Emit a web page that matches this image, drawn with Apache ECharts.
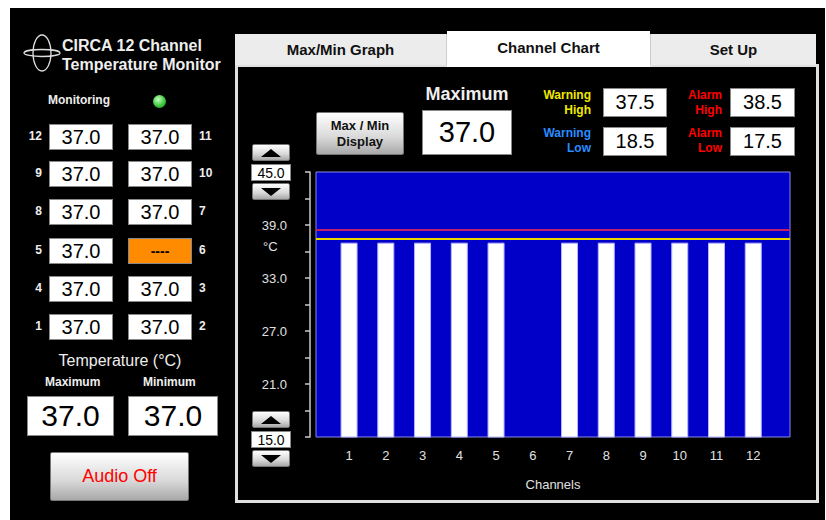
<!DOCTYPE html>
<html>
<head>
<meta charset="utf-8">
<title>CIRCA 12 Channel Temperature Monitor</title>
<script src="https://cdn.jsdelivr.net/npm/echarts@6/dist/echarts.min.js"></script>
<style>
  html, body { margin: 0; padding: 0; background: #fff; }
  body { width: 826px; height: 520px; position: relative; overflow: hidden;
         font-family: "Liberation Sans", Arial, sans-serif; }
  .screen { position: absolute; left: 10px; top: 8px; width: 815px; height: 512px; background: #000; }
  #chart { position: absolute; left: 0; top: 0; width: 826px; height: 520px; z-index: 2; }
  .ui { position: absolute; z-index: 3; }
  .box { position: absolute; background: #fff; border: 1px solid #888; box-sizing: border-box;
         color: #000; text-align: center; display: flex; align-items: center; justify-content: center; }
  .lbl { position: absolute; color: #eee; white-space: nowrap; }
  .btn { position: absolute; box-sizing: border-box; border: 1px solid #777; border-radius: 2px;
         background: linear-gradient(#ffffff, #d8d8d8 60%, #a8a8a8);
         display: flex; align-items: center; justify-content: center; text-align: center; }
  .tri-up { width: 0; height: 0; border-left: 10px solid transparent; border-right: 10px solid transparent; border-bottom: 8px solid #000; }
  .tri-dn { width: 0; height: 0; border-left: 10px solid transparent; border-right: 10px solid transparent; border-top: 8px solid #000; }
  .tab { position: absolute; box-sizing: border-box; display: flex; align-items: center; justify-content: center;
         font-size: 15px; font-weight: bold; color: #111; }
</style>
</head>
<body>
<div class="screen"></div>

<!-- 右侧面板边框和标签页 -->
<div class="ui" style="left:235px;top:64px;width:584px;height:439px;border:3px solid #e0e0e0;box-sizing:border-box;z-index:1"></div>
<div class="tab ui" style="left:235px;top:34px;width:212px;height:31px;background:#ececec;border-right:1px solid #ccc">Max/Min Graph</div>
<div class="tab ui" style="left:447px;top:31px;width:203px;height:36px;background:#fff;padding-bottom:4px">Channel Chart</div>
<div class="tab ui" style="left:650px;top:34px;width:166px;height:31px;background:#ececec;border-left:1px solid #ccc">Set Up</div>

<div id="chart"></div>
<div id="widgets"></div>

<script>
  // 通道编号与温度 (6 号通道无读数)
  const channels = [1, 2, 3, 4, 5, 6, 7, 8, 9, 10, 11, 12]
  const temps = [37.0, 37.0, 37.0, 37.0, 37.0, null, 37.0, 37.0, 37.0, 37.0, 37.0, 37.0]

  // 左侧面板的行排列
  const leftRows = [[12, 11], [9, 10], [8, 7], [5, 6], [4, 3], [1, 2]]
  const rowCenters = [137, 174, 212, 251, 289, 327]

  // 报警与警告阈值
  const warningHigh = 37.5
  const warningLow = 18.5
  const alarmHigh = 38.5
  const alarmLow = 17.5

  // 最大最小值
  const maxTemp = 37.0
  const minTemp = 37.0

  // 纵轴范围和刻度
  const yMin = 15
  const yMax = 45
  const yTickStep = 3
  const yLabels = [21, 27, 33, 39]

  const fmt = v => (v == null ? '----' : Number(v).toFixed(1))

  // 生成界面控件
  const w = document.getElementById('widgets')
  let html = ''

  // 标题与图标
  html += `<svg class="ui" style="left:22px;top:33px" width="40" height="42">
    <ellipse cx="20" cy="20" rx="9" ry="18" fill="none" stroke="#ddd" stroke-width="1.3"/>
    <ellipse cx="20" cy="20" rx="18" ry="3.5" fill="none" stroke="#ddd" stroke-width="1.3"/>
  </svg>`
  html += `<div class="lbl ui" style="left:62px;top:36px;font-size:16px;font-weight:bold;line-height:19px">CIRCA 12 Channel<br>Temperature Monitor</div>`
  html += `<div class="lbl ui" style="left:48px;top:93px;font-size:12px;font-weight:bold">Monitoring</div>`
  html += `<div class="ui" style="left:153px;top:95px;width:13px;height:13px;border-radius:50%;background:radial-gradient(circle at 40% 35%, #c8ffc0, #3cc83c 55%, #1a8a1a)"></div>`

  // 通道读数框
  leftRows.forEach((pair, i) => {
    const top = rowCenters[i] - 13
    const [a, b] = pair
    const va = temps[a - 1]
    const vb = temps[b - 1]
    html += `<div class="lbl ui" style="left:20px;width:22px;text-align:right;top:${top + 5}px;font-size:12px;font-weight:bold">${a}</div>`
    html += `<div class="box ui" style="left:49px;top:${top}px;width:64px;height:26px;font-size:20px;${va == null ? 'background:#ff8c00;font-weight:bold;font-size:14px' : ''}">${fmt(va)}</div>`
    html += `<div class="box ui" style="left:128px;top:${top}px;width:64px;height:26px;font-size:20px;${vb == null ? 'background:#ff8c00;font-weight:bold;font-size:14px' : ''}">${fmt(vb)}</div>`
    html += `<div class="lbl ui" style="left:199px;top:${top + 5}px;font-size:12px;font-weight:bold">${b}</div>`
  })

  html += `<div class="lbl ui" style="left:20px;width:200px;text-align:center;top:352px;font-size:16px">Temperature (°C)</div>`
  html += `<div class="lbl ui" style="left:45px;top:375px;font-size:12px;font-weight:bold">Maximum</div>`
  html += `<div class="lbl ui" style="left:143px;top:375px;font-size:12px;font-weight:bold">Minimum</div>`
  html += `<div class="box ui" style="left:27px;top:396px;width:87px;height:40px;font-size:30px">${fmt(maxTemp)}</div>`
  html += `<div class="box ui" style="left:128px;top:396px;width:90px;height:40px;font-size:30px">${fmt(minTemp)}</div>`
  html += `<div class="btn ui" style="left:50px;top:452px;width:139px;height:49px;color:#f00;font-size:18px">Audio Off</div>`

  // 图表上方的控件
  html += `<div class="btn ui" style="left:316px;top:112px;width:88px;height:43px;font-size:13px;font-weight:bold;color:#111;line-height:16px">Max / Min<br>Display</div>`
  html += `<div class="lbl ui" style="left:421px;width:92px;text-align:center;top:84px;font-size:18px;font-weight:bold">Maximum</div>`
  html += `<div class="box ui" style="left:422px;top:110px;width:90px;height:45px;font-size:29px">${fmt(maxTemp)}</div>`

  const limitLabel = (text, color, right, top) =>
    `<div class="lbl ui" style="left:${right - 80}px;width:80px;text-align:right;top:${top}px;font-size:12px;font-weight:bold;line-height:15px;color:${color}">${text}</div>`
  html += limitLabel('Warning<br>High', '#f0e800', 591, 88)
  html += `<div class="box ui" style="left:603px;top:88px;width:64px;height:29px;font-size:20px">${fmt(warningHigh)}</div>`
  html += limitLabel('Warning<br>Low', '#2a8cff', 591, 126)
  html += `<div class="box ui" style="left:603px;top:127px;width:64px;height:29px;font-size:20px">${fmt(warningLow)}</div>`
  html += limitLabel('Alarm<br>High', '#ff0000', 722, 88)
  html += `<div class="box ui" style="left:730px;top:88px;width:65px;height:29px;font-size:20px">${fmt(alarmHigh)}</div>`
  html += limitLabel('Alarm<br>Low', '#ff0000', 722, 126)
  html += `<div class="box ui" style="left:730px;top:127px;width:65px;height:29px;font-size:20px">${fmt(alarmLow)}</div>`

  // 纵轴范围调节按钮
  const spinner = (value, top) =>
    `<div class="btn ui" style="left:252px;top:${top}px;width:38px;height:17px"><div class="tri-up"></div></div>` +
    `<div class="box ui" style="left:251px;top:${top + 20}px;width:40px;height:17px;font-size:14px">${fmt(value)}</div>` +
    `<div class="btn ui" style="left:252px;top:${top + 39}px;width:38px;height:17px"><div class="tri-dn"></div></div>`
  html += spinner(yMax, 144)
  html += spinner(yMin, 411)

  w.innerHTML = html

  // 通道柱状图
  const chart = echarts.init(document.getElementById('chart'), null, { renderer: 'svg' })
  chart.setOption({
    backgroundColor: 'transparent',
    animation: false,
    grid: {
      left: 316,
      top: 172,
      width: 474,
      height: 265,
      show: true,
      backgroundColor: '#0000c8',
      borderColor: '#8a8ae6',
      borderWidth: 1
    },
    xAxis: {
      type: 'value',
      min: 0.1,
      max: 13,
      name: 'Channels',
      nameLocation: 'middle',
      nameGap: 41,
      nameTextStyle: { color: '#e0e0e0', fontSize: 13, fontFamily: 'Liberation Sans' },
      axisLine: { show: false },
      axisTick: { show: false },
      splitLine: { show: false },
      axisLabel: {
        customValues: channels,
        color: '#e0e0e0',
        fontSize: 13,
        margin: 12,
        fontFamily: 'Liberation Sans'
      }
    },
    yAxis: {
      type: 'value',
      min: yMin,
      max: yMax,
      interval: yTickStep,
      offset: 6,
      axisLine: { show: true, lineStyle: { color: '#c8c8c8', width: 1.5 } },
      axisTick: { show: true, inside: false, length: 5, lineStyle: { color: '#c8c8c8', width: 1.5 } },
      splitLine: { show: false },
      axisLabel: {
        color: '#e0e0e0',
        fontSize: 13,
        margin: 23,
        fontFamily: 'Liberation Sans',
        formatter: v => (yLabels.includes(v) ? v.toFixed(1) : '')
      }
    },
    graphic: [
      {
        type: 'text',
        left: 263,
        top: 240,
        style: { text: '°C', fill: '#e0e0e0', fontSize: 13, fontFamily: 'Liberation Sans' }
      }
    ],
    series: [
      {
        type: 'bar',
        barWidth: 17,
        data: channels.map((c, i) => [c, temps[i]]),
        itemStyle: { color: '#ffffff', borderColor: '#b4b4ff', borderWidth: 1 },
        markLine: {
          silent: true,
          symbol: 'none',
          label: { show: false },
          data: [
            { yAxis: alarmHigh, lineStyle: { color: '#c0206a', width: 2, type: 'solid' } },
            { yAxis: warningHigh, lineStyle: { color: '#e8d800', width: 2, type: 'solid' } }
          ]
        }
      }
    ]
  })
</script>
</body>
</html>
